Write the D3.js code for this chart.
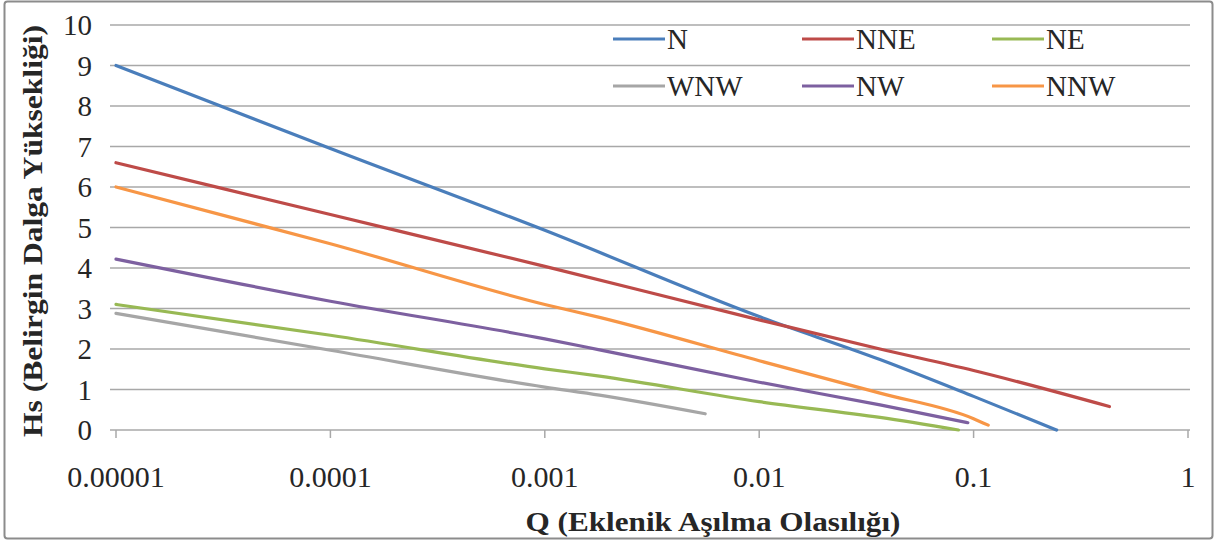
<!DOCTYPE html>
<html lang="tr">
<head>
<meta charset="UTF-8">
<script src="https://cdn.jsdelivr.net/npm/d3@7"></script>
<style>
  html,body{margin:0;padding:0;background:#fff;}
  svg text{font-family:"Times New Roman","Liberation Serif",Tinos,serif;fill:#262626;}
</style>
</head>
<body>
<div id="chart"></div>
<script>
// data
var seriesNames = ["N", "NNE", "NE", "WNW", "NW", "NNW"];
var seriesColors = ["#4a7ebb", "#be4b48", "#98b954", "#a6a6a6", "#7d60a0", "#f79646"];

var qN   = [1e-5, 1e-4, 1e-3, 1e-2, 0.0366, 0.1, 0.244];
var hN   = [9.0, 6.95, 4.93, 2.8, 1.74, 0.83, 0];
var qNNE = [1e-5, 1e-4, 1e-3, 1e-2, 0.0366, 0.1, 0.43];
var hNNE = [6.6, 5.32, 4.04, 2.72, 2.0, 1.47, 0.58];
var qNE  = [1e-5, 1e-4, 1e-3, 1.8e-3, 1e-2, 0.0366, 0.085];
var hNE  = [3.1, 2.34, 1.51, 1.33, 0.7, 0.31, 0];
var qWNW = [1e-5, 1e-4, 1e-3, 1.8e-3, 0.0056];
var hWNW = [2.88, 1.97, 1.06, 0.86, 0.4];
var qNW  = [1e-5, 1e-4, 1e-3, 1.8e-3, 1e-2, 0.0366, 0.094];
var hNW  = [4.22, 3.18, 2.25, 1.98, 1.18, 0.62, 0.18];
var qNNW = [1e-5, 1e-4, 1e-3, 1.8e-3, 1e-2, 0.0366, 0.1, 0.117];
var hNNW = [6.0, 4.6, 3.1, 2.78, 1.71, 0.91, 0.28, 0.12];

var xTicks = [1e-5, 1e-4, 1e-3, 1e-2, 1e-1, 1];
var xTickLabels = ["0.00001", "0.0001", "0.001", "0.01", "0.1", "1"];
var yTicks = [0, 1, 2, 3, 4, 5, 6, 7, 8, 9, 10];

var qs = [qN, qNNE, qNE, qWNW, qNW, qNNW];
var hs = [hN, hNNE, hNE, hWNW, hNW, hNNW];

var width = 1218, height = 545;

var svg = d3.select("#chart").append("svg")
    .attr("width", width)
    .attr("height", height);

// chart area border
svg.append("rect")
    .attr("x", 4.5).attr("y", 1.5)
    .attr("width", 1208).attr("height", 537)
    .attr("rx", 3)
    .style("fill", "#fff")
    .style("stroke", "#8c8c8c")
    .style("stroke-width", 2);

var x = d3.scaleLog().domain([1e-5, 1]).range([116, 1188]);
var y = d3.scaleLinear().domain([0, 10]).range([430, 25]);

// horizontal gridlines
svg.append("g").selectAll("line")
    .data(yTicks)
    .enter().append("line")
    .attr("x1", 110).attr("x2", 1190)
    .attr("y1", function(d) { return y(d); })
    .attr("y2", function(d) { return y(d); })
    .style("stroke", "#a8a8a8")
    .style("stroke-width", 1.5);

// y tick labels
svg.append("g").selectAll("text")
    .data(yTicks)
    .enter().append("text")
    .attr("x", 92)
    .attr("y", function(d) { return y(d); })
    .attr("dy", "0.35em")
    .attr("text-anchor", "end")
    .style("font-size", "29px")
    .text(function(d) { return d; });

// x axis ticks
svg.append("g").selectAll("line")
    .data(xTicks)
    .enter().append("line")
    .attr("x1", function(d) { return x(d); })
    .attr("x2", function(d) { return x(d); })
    .attr("y1", 430).attr("y2", 438)
    .style("stroke", "#a8a8a8")
    .style("stroke-width", 1.5);

svg.append("g").selectAll("text")
    .data(xTicks)
    .enter().append("text")
    .attr("x", function(d) { return x(d); })
    .attr("y", 476)
    .attr("dy", "0.35em")
    .attr("text-anchor", "middle")
    .style("font-size", "30px")
    .text(function(d, i) { return xTickLabels[i]; });

// series lines
var line = d3.line()
    .x(function(d) { return x(d[0]); })
    .y(function(d) { return y(d[1]); })
    .curve(d3.curveMonotoneX);

svg.append("g").selectAll("path")
    .data(seriesNames)
    .enter().append("path")
    .attr("d", function(d, i) { return line(d3.zip(qs[i], hs[i])); })
    .style("fill", "none")
    .style("stroke", function(d, i) { return seriesColors[i]; })
    .style("stroke-width", 3.2)
    .style("stroke-linejoin", "round")
    .style("stroke-linecap", "round");

// legend
var legendX = [613, 802, 992];
var legendY = [39, 86];
var legend = svg.append("g").selectAll("g")
    .data(seriesNames)
    .enter().append("g")
    .attr("transform", function(d, i) {
        return "translate(" + legendX[i % 3] + "," + legendY[Math.floor(i / 3)] + ")";
    });
legend.append("line")
    .attr("x1", 0).attr("x2", 52)
    .attr("y1", 0).attr("y2", 0)
    .style("stroke", function(d, i) { return seriesColors[i]; })
    .style("stroke-width", 3.2);
legend.append("text")
    .attr("x", 54)
    .attr("dy", "0.35em")
    .style("font-size", "29px")
    .text(function(d) { return d; });

// axis titles
svg.append("text")
    .attr("x", 713).attr("y", 522)
    .attr("dy", "0.35em")
    .attr("text-anchor", "middle")
    .attr("textLength", 375)
    .attr("lengthAdjust", "spacingAndGlyphs")
    .style("font-size", "27px")
    .style("font-weight", "bold")
    .text("Q (Eklenik Aşılma Olasılığı)");

svg.append("text")
    .attr("transform", "translate(33,231) rotate(-90)")
    .attr("dy", "0.35em")
    .attr("text-anchor", "middle")
    .attr("textLength", 412)
    .attr("lengthAdjust", "spacingAndGlyphs")
    .style("font-size", "27px")
    .style("font-weight", "bold")
    .text("Hs (Belirgin Dalga Yüksekliği)");
</script>
</body>
</html>
